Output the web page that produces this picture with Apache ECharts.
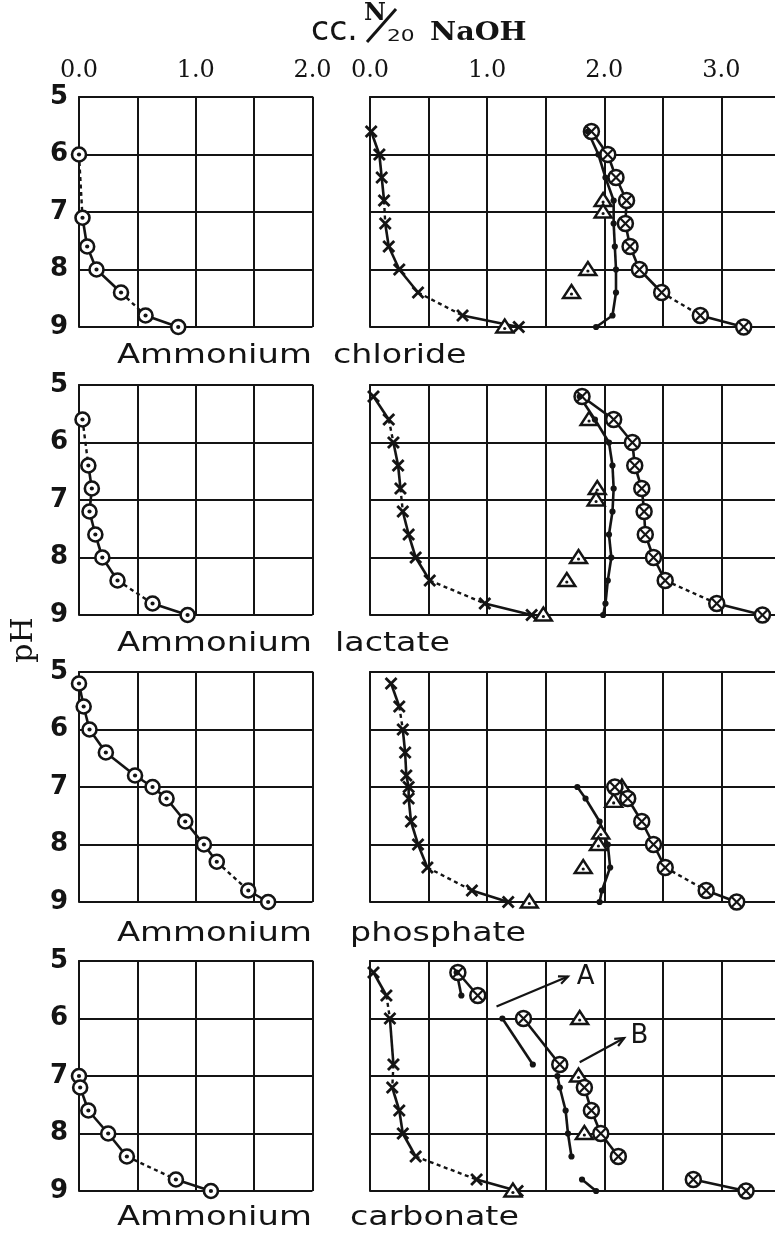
<!DOCTYPE html>
<html>
<head>
<meta charset="utf-8">
<title>Ammonium salts titrated with N/20 NaOH</title>
<script src="https://cdn.jsdelivr.net/npm/echarts@6/dist/echarts.min.js"></script>
<style>
    html, body { margin: 0; padding: 0; background: #fff; }
    #chart { width: 775px; height: 1236px; }
</style>
</head>
<body>
<div id="chart"></div>
<script>
// pH down the side, cc. of N/20 NaOH across the top
var phTicks = [5, 6, 7, 8, 9];
var leftTicks = [0, 1, 2];
var rightTicks = [0, 1, 2, 3];
var saltNames = ['chloride', 'lactate', 'phosphate', 'carbonate'];

// segment codes between consecutive points: s = solid, d = dotted, n = no line

// Ammonium chloride
var chlorideLeft = [[0.00, 6.0], [0.03, 7.1], [0.07, 7.6], [0.15, 8.0], [0.36, 8.4], [0.57, 8.8], [0.85, 9.0]];
var chlorideLeftSegs = 'dsssds';
var chlorideCross = [[0.01, 5.6], [0.08, 6.0], [0.10, 6.4], [0.12, 6.8], [0.13, 7.2], [0.16, 7.6], [0.25, 8.0], [0.41, 8.4], [0.79, 8.8], [1.27, 9.0]];
var chlorideCrossSegs = 'sssdsssds';
var chlorideTri = [[1.99, 6.8], [1.99, 7.0], [1.86, 8.0], [1.72, 8.4], [1.15, 9.0]];
var chlorideDot = [[1.86, 5.6], [1.95, 6.0], [2.01, 6.4], [2.08, 6.8], [2.08, 7.2], [2.09, 7.6], [2.10, 8.0], [2.10, 8.4], [2.07, 8.8], [1.93, 9.0]];
var chlorideDotSegs = 'sssssssss';
var chlorideOtimes = [[1.89, 5.6], [2.03, 6.0], [2.10, 6.4], [2.19, 6.8], [2.18, 7.2], [2.22, 7.6], [2.30, 8.0], [2.49, 8.4], [2.82, 8.8], [3.19, 9.0]];
var chlorideOtimesSegs = 'sssssssds';

// Ammonium lactate
var lactateLeft = [[0.03, 5.6], [0.08, 6.4], [0.11, 6.8], [0.09, 7.2], [0.14, 7.6], [0.20, 8.0], [0.33, 8.4], [0.63, 8.8], [0.93, 9.0]];
var lactateLeftSegs = 'dsssssds';
var lactateCross = [[0.03, 5.2], [0.16, 5.6], [0.20, 6.0], [0.24, 6.4], [0.26, 6.8], [0.28, 7.2], [0.33, 7.6], [0.39, 8.0], [0.51, 8.4], [0.98, 8.8], [1.38, 9.0]];
var lactateCrossSegs = 'sdssdsssds';
var lactateTri = [[1.87, 5.6], [1.94, 6.8], [1.93, 7.0], [1.78, 8.0], [1.68, 8.4], [1.48, 9.0]];
var lactateDot = [[1.79, 5.2], [1.92, 5.6], [2.04, 6.0], [2.07, 6.4], [2.08, 6.8], [2.07, 7.2], [2.04, 7.6], [2.06, 8.0], [2.03, 8.4], [2.01, 8.8], [1.99, 9.0]];
var lactateDotSegs = 'ssssssssss';
var lactateOtimes = [[1.81, 5.2], [2.08, 5.6], [2.24, 6.0], [2.26, 6.4], [2.32, 6.8], [2.34, 7.2], [2.35, 7.6], [2.42, 8.0], [2.52, 8.4], [2.96, 8.8], [3.35, 9.0]];
var lactateOtimesSegs = 'ssssssssds';

// Ammonium phosphate
var phosphateLeft = [[0.00, 5.2], [0.04, 5.6], [0.09, 6.0], [0.23, 6.4], [0.48, 6.8], [0.63, 7.0], [0.75, 7.2], [0.91, 7.6], [1.07, 8.0], [1.18, 8.3], [1.45, 8.8], [1.62, 9.0]];
var phosphateLeftSegs = 'sssssssssds';
var phosphateCross = [[0.18, 5.2], [0.25, 5.6], [0.28, 6.0], [0.30, 6.4], [0.31, 6.8], [0.33, 7.0], [0.33, 7.2], [0.35, 7.6], [0.41, 8.0], [0.49, 8.4], [0.87, 8.8], [1.18, 9.0]];
var phosphateCrossSegs = 'sdsssssssds';
var phosphateTri = [[2.15, 7.0], [2.08, 7.25], [1.97, 7.8], [1.95, 8.0], [1.82, 8.4], [1.36, 9.0]];
var phosphateDot = [[1.77, 7.0], [1.84, 7.2], [1.96, 7.6], [2.03, 8.0], [2.05, 8.4], [1.98, 8.8], [1.96, 9.0]];
var phosphateDotSegs = 'ssssss';
var phosphateOtimes = [[2.09, 7.0], [2.20, 7.2], [2.32, 7.6], [2.42, 8.0], [2.52, 8.4], [2.87, 8.8], [3.13, 9.0]];
var phosphateOtimesSegs = 'ssssds';

// Ammonium carbonate
var carbonateLeft = [[0.00, 7.0], [0.01, 7.2], [0.08, 7.6], [0.25, 8.0], [0.41, 8.4], [0.83, 8.8], [1.13, 9.0]];
var carbonateLeftSegs = 'ssssds';
var carbonateCross = [[0.03, 5.2], [0.14, 5.6], [0.17, 6.0], [0.20, 6.8], [0.19, 7.2], [0.25, 7.6], [0.28, 8.0], [0.39, 8.4], [0.91, 8.8], [1.26, 9.0]];
var carbonateCrossSegs = 'sdsdsssds';
var carbonateTri = [[1.79, 6.0], [1.78, 7.0], [1.83, 8.0], [1.22, 9.0]];
var carbonateDot = [[0.74, 5.2], [0.78, 5.6], [1.13, 6.0], [1.39, 6.8], [1.60, 7.0], [1.62, 7.2], [1.67, 7.6], [1.69, 8.0], [1.72, 8.4], [1.81, 8.8], [1.93, 9.0]];
var carbonateDotSegs = 'snsnssssns';
var carbonateOtimes = [[0.75, 5.2], [0.92, 5.6], [1.31, 6.0], [1.62, 6.8], [1.83, 7.2], [1.89, 7.6], [1.97, 8.0], [2.12, 8.4], [2.76, 8.8], [3.21, 9.0]];
var carbonateOtimesSegs = 'snsnsssns';

// arrows in the carbonate panel: tail x, tail pH, head x, head pH, letter x, letter pH
var carbonateArrows = [[1.08, 5.79, 1.69, 5.27, 1.84, 5.28], [1.79, 6.76, 2.17, 6.34, 2.30, 6.30]];
var arrowLetters = ['A', 'B'];

var panels = [
    {left: chlorideLeft, leftSegs: chlorideLeftSegs, cross: chlorideCross, crossSegs: chlorideCrossSegs, tri: chlorideTri,
        dot: chlorideDot, dotSegs: chlorideDotSegs, otimes: chlorideOtimes, otimesSegs: chlorideOtimesSegs},
    {left: lactateLeft, leftSegs: lactateLeftSegs, cross: lactateCross, crossSegs: lactateCrossSegs, tri: lactateTri,
        dot: lactateDot, dotSegs: lactateDotSegs, otimes: lactateOtimes, otimesSegs: lactateOtimesSegs},
    {left: phosphateLeft, leftSegs: phosphateLeftSegs, cross: phosphateCross, crossSegs: phosphateCrossSegs, tri: phosphateTri,
        dot: phosphateDot, dotSegs: phosphateDotSegs, otimes: phosphateOtimes, otimesSegs: phosphateOtimesSegs},
    {left: carbonateLeft, leftSegs: carbonateLeftSegs, cross: carbonateCross, crossSegs: carbonateCrossSegs, tri: carbonateTri,
        dot: carbonateDot, dotSegs: carbonateDotSegs, otimes: carbonateOtimes, otimesSegs: carbonateOtimesSegs}
];

var INK = '#141414';
var rowTops = [97, 385, 672, 961];
var rowBaselines = [365, 653, 943, 1227];
var secondWordX = [333, 335, 350, 350];

function segData(pts, segs) {
    var out = [];
    for (var i = 0; i < pts.length - 1; i++) {
        var c = segs.charAt(i);
        if (c === 'n') continue;
        out.push([pts[i][0], pts[i][1], pts[i + 1][0], pts[i + 1][1], c === 'd' ? 1 : 0]);
    }
    return out;
}

function renderSeg(params, api) {
    var a = api.coord([api.value(0), api.value(1)]);
    var b = api.coord([api.value(2), api.value(3)]);
    var dotted = api.value(4) === 1;
    return {
        type: 'line',
        shape: {x1: a[0], y1: a[1], x2: b[0], y2: b[1]},
        style: {stroke: INK, lineWidth: dotted ? 2.4 : 2.6, lineDash: dotted ? [4, 3.5] : null}
    };
}

function markerRender(kind) {
    return function (params, api) {
        var p = api.coord([api.value(0), api.value(1)]);
        var x = p[0], y = p[1];
        var kids = [];
        if (kind === 'ring') {
            kids.push({type: 'circle', shape: {cx: x, cy: y, r: 7}, style: {fill: '#fff', stroke: INK, lineWidth: 2.6}});
            kids.push({type: 'circle', shape: {cx: x, cy: y, r: 2.1}, style: {fill: INK}});
        } else if (kind === 'otimes') {
            var d = 5.2;
            kids.push({type: 'circle', shape: {cx: x, cy: y, r: 7.5}, style: {fill: '#fff', stroke: INK, lineWidth: 2.5}});
            kids.push({type: 'line', shape: {x1: x - d, y1: y - d, x2: x + d, y2: y + d}, style: {stroke: INK, lineWidth: 2.2}});
            kids.push({type: 'line', shape: {x1: x + d, y1: y - d, x2: x - d, y2: y + d}, style: {stroke: INK, lineWidth: 2.2}});
        } else if (kind === 'tri') {
            kids.push({type: 'polygon', shape: {points: [[x, y - 7.5], [x + 8.5, y + 5.5], [x - 8.5, y + 5.5]]},
                style: {fill: '#fff', stroke: INK, lineWidth: 2.4}});
            kids.push({type: 'circle', shape: {cx: x, cy: y + 1.5, r: 1.6}, style: {fill: INK}});
        } else if (kind === 'cross') {
            var c = 5.5;
            kids.push({type: 'line', shape: {x1: x - c, y1: y - c, x2: x + c, y2: y + c}, style: {stroke: INK, lineWidth: 2.8}});
            kids.push({type: 'line', shape: {x1: x + c, y1: y - c, x2: x - c, y2: y + c}, style: {stroke: INK, lineWidth: 2.8}});
        } else {
            kids.push({type: 'circle', shape: {cx: x, cy: y, r: 3.1}, style: {fill: INK}});
        }
        return {type: 'group', children: kids};
    };
}

function renderArrow(params, api) {
    var a = api.coord([api.value(0), api.value(1)]);
    var b = api.coord([api.value(2), api.value(3)]);
    var t = api.coord([api.value(4), api.value(5)]);
    var ang = Math.atan2(b[1] - a[1], b[0] - a[0]);
    var head = 10, spread = 0.42;
    var l = [b[0] - head * Math.cos(ang - spread), b[1] - head * Math.sin(ang - spread)];
    var r = [b[0] - head * Math.cos(ang + spread), b[1] - head * Math.sin(ang + spread)];
    return {
        type: 'group',
        children: [
            {type: 'line', shape: {x1: a[0], y1: a[1], x2: b[0], y2: b[1]}, style: {stroke: INK, lineWidth: 2.2}},
            {type: 'polyline', shape: {points: [l, b, r]}, style: {stroke: INK, lineWidth: 2.2, fill: null}},
            {type: 'text', x: t[0], y: t[1], style: {
                text: arrowLetters[params.dataIndex], font: '26px "DejaVu Sans"', fill: INK,
                align: 'center', verticalAlign: 'middle', textAlign: 'center', textVerticalAlign: 'middle'}}
        ]
    };
}

function addCurve(list, grid, pts, segs, kind) {
    if (segs) {
        list.push({
            type: 'custom', xAxisIndex: grid, yAxisIndex: grid, z: 2, silent: true,
            renderItem: renderSeg, encode: {x: [0, 2], y: [1, 3]}, data: segData(pts, segs)
        });
    }
    list.push({
        type: 'custom', xAxisIndex: grid, yAxisIndex: grid, z: 3, silent: true,
        renderItem: markerRender(kind), encode: {x: 0, y: 1}, data: pts
    });
}

var grids = [], xAxes = [], yAxes = [], series = [];

function tickText(ticks) {
    return function (v) {
        return ticks.indexOf(v) >= 0 ? v.toFixed(1) : '';
    };
}

for (var r = 0; r < 4; r++) {
    [0, 1].forEach(function (side) {
        var right = side === 1;
        grids.push({
            left: right ? 370 : 79, top: rowTops[r], width: right ? 410 : 233.5, height: 230,
            containLabel: false, outerBoundsMode: 'none'
        });
        var gi = grids.length - 1;
        xAxes.push({
            gridIndex: gi, type: 'value', position: 'top', min: 0, max: right ? 3.5 : 2, interval: 0.5,
            axisLine: {show: true, lineStyle: {color: INK, width: 2}},
            axisTick: {show: false},
            splitLine: {show: true, lineStyle: {color: INK, width: 2}},
            axisLabel: {
                show: r === 0, margin: 14, color: INK, fontSize: 24, fontFamily: 'DejaVu Serif',
                showMinLabel: true, showMaxLabel: true,
                formatter: tickText(right ? rightTicks : leftTicks)
            }
        });
        yAxes.push({
            gridIndex: gi, type: 'value', inverse: true, min: 5, max: 9, interval: 1,
            axisLine: {show: true, lineStyle: {color: INK, width: 2}},
            axisTick: {show: false},
            splitLine: {show: true, lineStyle: {color: INK, width: 2}},
            axisLabel: {
                show: !right, margin: 11, color: INK, fontSize: 26, fontWeight: 'bold', fontFamily: 'DejaVu Sans',
                showMinLabel: true, showMaxLabel: true,
                formatter: function (v) { return phTicks.indexOf(v) >= 0 ? String(v) : ''; }
            }
        });
    });
    var p = panels[r];
    var lg = 2 * r, rg = 2 * r + 1;
    addCurve(series, lg, p.left, p.leftSegs, 'ring');
    addCurve(series, rg, p.cross, p.crossSegs, 'cross');
    addCurve(series, rg, p.tri, null, 'tri');
    addCurve(series, rg, p.otimes, p.otimesSegs, 'otimes');
    addCurve(series, rg, p.dot, p.dotSegs, 'dot');
}

series.push({
    type: 'custom', xAxisIndex: 7, yAxisIndex: 7, z: 4, silent: true,
    renderItem: renderArrow, encode: {x: [0, 2], y: [1, 3]}, data: carbonateArrows
});

function label(text, x, y, font, extra) {
    var el = {
        type: 'text', x: x, y: y, silent: true,
        style: {text: text, font: font, fill: INK, align: 'left', verticalAlign: 'middle',
            textAlign: 'left', textVerticalAlign: 'middle'}
    };
    for (var k in extra) el[k] = extra[k];
    return el;
}

var graphics = [
    label('cc.', 311, 31, '33px "DejaVu Sans"', {}),
    label('N', 364, 14, 'bold 24px "DejaVu Serif"', {}),
    {type: 'line', silent: true, shape: {x1: 367, y1: 42, x2: 396, y2: 9}, style: {stroke: INK, lineWidth: 3}},
    label('20', 387, 37, '15px "DejaVu Sans"', {scaleX: 1.45}),
    label('NaOH', 430, 33, 'bold 26px "DejaVu Serif"', {scaleX: 1.1}),
    label('pH', 24, 640, '30px "DejaVu Serif"', {rotation: Math.PI / 2})
];
graphics[graphics.length - 1].style.align = 'center';
graphics[graphics.length - 1].style.textAlign = 'center';

for (var i = 0; i < 4; i++) {
    graphics.push(label('Ammonium', 117, rowBaselines[i] - 9, '26px "DejaVu Sans"', {scaleX: 1.3}));
    graphics.push(label(saltNames[i], secondWordX[i], rowBaselines[i] - 9, '26px "DejaVu Sans"', {scaleX: 1.28}));
}

var chart = echarts.init(document.getElementById('chart'));
chart.setOption({
    animation: false,
    backgroundColor: '#fff',
    grid: grids,
    xAxis: xAxes,
    yAxis: yAxes,
    series: series,
    graphic: graphics
});
</script>
</body>
</html>
